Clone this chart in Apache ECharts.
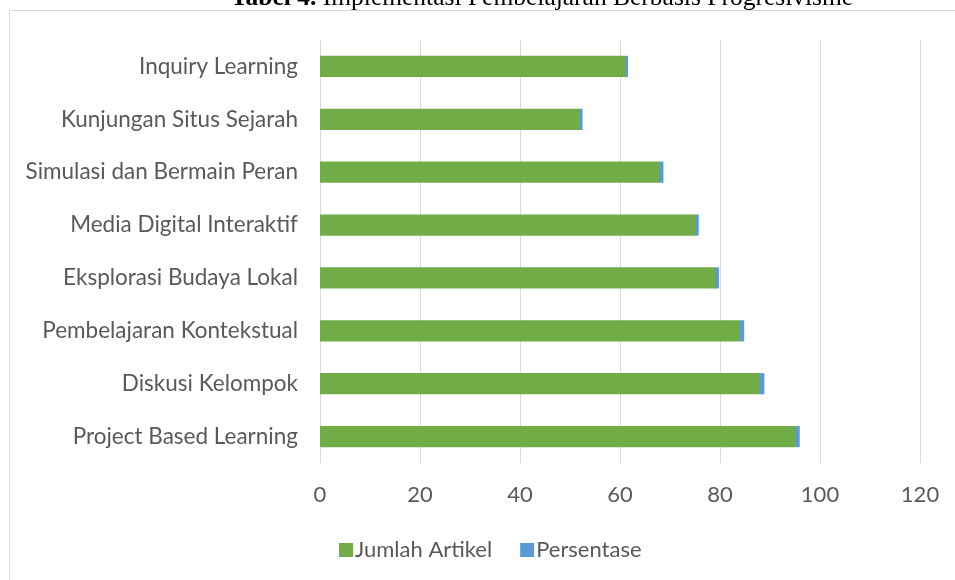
<!DOCTYPE html>
<html>
<head>
<meta charset="utf-8">
<script src="https://cdn.jsdelivr.net/npm/echarts@6/dist/echarts.min.js"></script>
<style>
html,body{margin:0;padding:0;background:#fff;}
#chart{width:955px;height:580px;}
</style>
</head>
<body>
<div id="chart"></div>
<script>
var categories = [
  "Inquiry Learning",
  "Kunjungan Situs Sejarah",
  "Simulasi dan Bermain Peran",
  "Media Digital Interaktif",
  "Eksplorasi Budaya Lokal",
  "Pembelajaran Kontekstual",
  "Diskusi Kelompok",
  "Project Based Learning"
];
var jumlahArtikel = [61, 52, 68, 75, 79, 84, 88, 95];
var persentase = [0.61, 0.52, 0.68, 0.75, 0.79, 0.84, 0.88, 0.95];
var xTicks = [0, 20, 40, 60, 80, 100, 120];

var FONT = "Lato";
var chart = echarts.init(document.getElementById('chart'), null, {renderer: 'canvas'});
chart.setOption({
  backgroundColor: '#ffffff',
  animation: false,
  graphic: [
    {
      type: 'rect',
      shape: {x: 9.5, y: 10.5, width: 980, height: 620},
      style: {fill: 'none', stroke: '#d9d9d9', lineWidth: 1},
      silent: true
    },
    {
      type: 'text',
      x: 542, y: -2,
      style: {
        text: '{b|Tabel 4.} Implementasi Pembelajaran Berbasis Progresivisme',
        align: 'center', verticalAlign: 'middle',
        font: '25.5px "Liberation Serif"',
        fill: '#000',
        rich: {
          b: {fontWeight: 'bold', fontFamily: 'Liberation Serif', fontSize: 25.5, fill: '#000'}
        }
      },
      silent: true
    }
  ],
  grid: {left: 320, right: 35, top: 40, bottom: 117, containLabel: false},
  legend: {
    data: ['Jumlah Artikel', 'Persentase'],
    left: 334, top: 534,
    icon: 'rect', itemWidth: 14, itemHeight: 14, itemGap: 28,
    textStyle: {fontFamily: FONT, fontSize: 22, color: '#595959', padding: [0, 0, 0, -3]}
  },
  xAxis: {
    type: 'value', min: xTicks[0], max: xTicks[xTicks.length - 1], interval: 20,
    axisLine: {show: false}, axisTick: {show: false},
    splitLine: {lineStyle: {color: '#d9d9d9', width: 1}},
    axisLabel: {fontFamily: FONT, fontSize: 22, color: '#595959', margin: 21}
  },
  yAxis: {
    type: 'category', data: categories, inverse: true,
    axisLine: {show: false}, axisTick: {show: false},
    axisLabel: {fontFamily: FONT, fontSize: 22.5, color: '#595959', margin: 22}
  },
  series: [
    {name: 'Jumlah Artikel', type: 'bar', stack: 'total', data: jumlahArtikel,
     barWidth: '40%', itemStyle: {color: '#70AD47'}},
    {name: 'Persentase', type: 'bar', stack: 'total', data: persentase,
     barWidth: '40%', itemStyle: {color: '#5B9BD5'}}
  ]
});
</script>
</body>
</html>
